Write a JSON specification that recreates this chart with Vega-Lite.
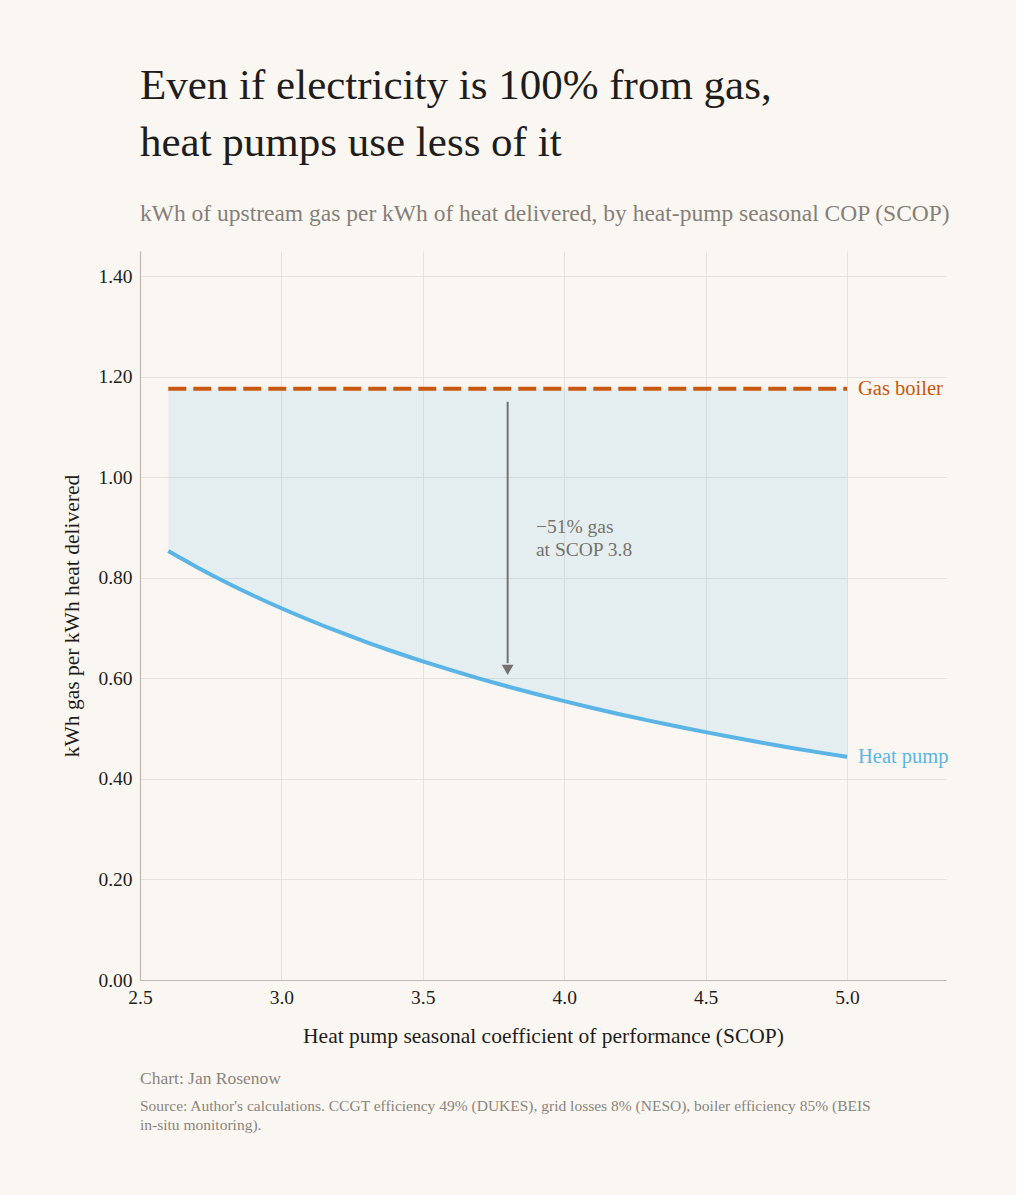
{
  "$schema": "https://vega.github.io/schema/vega-lite/v6.json",
  "background": "#faf7f2",
  "padding": {"left": 61, "top": 64, "right": 65, "bottom": 62},
  "title": {
    "text": ["Even if electricity is 100% from gas,", "heat pumps use less of it"],
    "subtitle": "kWh of upstream gas per kWh of heat delivered, by heat-pump seasonal COP (SCOP)",
    "anchor": "start",
    "frame": "group",
    "font": "Liberation Serif",
    "fontSize": 43,
    "fontWeight": "normal",
    "lineHeight": 57,
    "color": "#1f1d1b",
    "subtitleFont": "Liberation Serif",
    "subtitleFontSize": 23.5,
    "subtitleColor": "#857f79",
    "subtitlePadding": 37,
    "offset": 26
  },
  "datasets": {
    "curve": [
      {"scop": 2.6, "hp": 0.8532, "boiler": 1.176},
      {"scop": 2.7, "hp": 0.8216, "boiler": 1.176},
      {"scop": 2.8, "hp": 0.7922, "boiler": 1.176},
      {"scop": 2.9, "hp": 0.7649, "boiler": 1.176},
      {"scop": 3.0, "hp": 0.7394, "boiler": 1.176},
      {"scop": 3.1, "hp": 0.7156, "boiler": 1.176},
      {"scop": 3.2, "hp": 0.6932, "boiler": 1.176},
      {"scop": 3.3, "hp": 0.6722, "boiler": 1.176},
      {"scop": 3.4, "hp": 0.6524, "boiler": 1.176},
      {"scop": 3.5, "hp": 0.6338, "boiler": 1.176},
      {"scop": 3.6, "hp": 0.6162, "boiler": 1.176},
      {"scop": 3.7, "hp": 0.5995, "boiler": 1.176},
      {"scop": 3.8, "hp": 0.5838, "boiler": 1.176},
      {"scop": 3.9, "hp": 0.5688, "boiler": 1.176},
      {"scop": 4.0, "hp": 0.5546, "boiler": 1.176},
      {"scop": 4.1, "hp": 0.5410, "boiler": 1.176},
      {"scop": 4.2, "hp": 0.5282, "boiler": 1.176},
      {"scop": 4.3, "hp": 0.5159, "boiler": 1.176},
      {"scop": 4.4, "hp": 0.5042, "boiler": 1.176},
      {"scop": 4.5, "hp": 0.4930, "boiler": 1.176},
      {"scop": 4.6, "hp": 0.4822, "boiler": 1.176},
      {"scop": 4.7, "hp": 0.4720, "boiler": 1.176},
      {"scop": 4.8, "hp": 0.4621, "boiler": 1.176},
      {"scop": 4.9, "hp": 0.4527, "boiler": 1.176},
      {"scop": 5.0, "hp": 0.4437, "boiler": 1.176}
    ],
    "labels": [
      {"scop": 5.0, "value": 1.176, "label": "Gas boiler", "series": "boiler"},
      {"scop": 5.0, "value": 0.4437, "label": "Heat pump", "series": "hp"}
    ],
    "arrow": [
      {"scop": 3.8, "top": 1.15, "bottom": 0.63, "tip": 0.617}
    ],
    "note": [
      {"scop": 3.9, "value": 0.889, "text": "−51% gas\nat SCOP 3.8"}
    ]
  },
  "vconcat": [
    {
      "width": 806,
      "height": 729,
      "title": {
        "text": "Chart: Jan Rosenow",
        "subtitle": ["Source: Author's calculations. CCGT efficiency 49% (DUKES), grid losses 8% (NESO), boiler efficiency 85% (BEIS", "in-situ monitoring)."],
        "orient": "bottom",
        "anchor": "start",
        "frame": "group",
        "font": "Liberation Serif",
        "fontSize": 17.5,
        "fontWeight": "normal",
        "color": "#8a847e",
        "subtitleFont": "Liberation Serif",
        "subtitleFontSize": 15.5,
        "subtitleColor": "#8a847e",
        "subtitleLineHeight": 19,
        "subtitlePadding": 11,
        "offset": 23
      },
      "layer": [
        {
          "data": {"name": "curve"},
          "mark": {"type": "area", "color": "#5ab4e5", "opacity": 0.13, "stroke": "#9cc5dc", "strokeWidth": 1, "strokeOpacity": 0.6},
          "encoding": {
            "x": {
              "field": "scop", "type": "quantitative",
              "scale": {"domain": [2.5, 5.35], "nice": false, "zero": false},
              "axis": {
                "values": [2.5, 3.0, 3.5, 4.0, 4.5, 5.0],
                "format": ".1f",
                "labelFlush": false,
                "title": "Heat pump seasonal coefficient of performance (SCOP)"
              }
            },
            "y": {
              "field": "hp", "type": "quantitative",
              "scale": {"domain": [0, 1.45], "nice": false},
              "axis": {
                "values": [0, 0.2, 0.4, 0.6, 0.8, 1.0, 1.2, 1.4],
                "format": ".2f",
                "labelFlush": false,
                "title": "kWh gas per kWh heat delivered"
              }
            },
            "y2": {"field": "boiler"}
          }
        },
        {
          "data": {"name": "curve"},
          "mark": {"type": "line", "color": "#c8580f", "strokeWidth": 4, "strokeDash": [18, 7]},
          "encoding": {
            "x": {"field": "scop", "type": "quantitative"},
            "y": {"field": "boiler", "type": "quantitative"}
          }
        },
        {
          "data": {"name": "curve"},
          "mark": {"type": "line", "color": "#5ab4e5", "strokeWidth": 4, "interpolate": "monotone"},
          "encoding": {
            "x": {"field": "scop", "type": "quantitative"},
            "y": {"field": "hp", "type": "quantitative"}
          }
        },
        {
          "data": {"name": "labels"},
          "mark": {"type": "text", "align": "left", "baseline": "middle", "dx": 11, "font": "Liberation Serif", "fontSize": 20.5},
          "encoding": {
            "x": {"field": "scop", "type": "quantitative"},
            "y": {"field": "value", "type": "quantitative"},
            "text": {"field": "label"},
            "color": {
              "field": "series", "type": "nominal",
              "scale": {"domain": ["boiler", "hp"], "range": ["#c8580f", "#5ab4e5"]},
              "legend": null
            }
          }
        },
        {
          "data": {"name": "arrow"},
          "mark": {"type": "rule", "color": "#76716c", "strokeWidth": 2},
          "encoding": {
            "x": {"field": "scop", "type": "quantitative"},
            "y": {"field": "top", "type": "quantitative"},
            "y2": {"field": "bottom"}
          }
        },
        {
          "data": {"name": "arrow"},
          "mark": {"type": "point", "shape": "triangle-down", "filled": true, "color": "#76716c", "opacity": 1, "size": 140},
          "encoding": {
            "x": {"field": "scop", "type": "quantitative"},
            "y": {"field": "tip", "type": "quantitative"}
          }
        },
        {
          "data": {"name": "note"},
          "mark": {"type": "text", "align": "left", "baseline": "alphabetic", "lineBreak": "\n", "lineHeight": 23, "font": "Liberation Serif", "fontSize": 19.5, "color": "#76716c"},
          "encoding": {
            "x": {"field": "scop", "type": "quantitative"},
            "y": {"field": "value", "type": "quantitative"},
            "text": {"field": "text"}
          }
        }
      ]
    }
  ],
  "config": {
    "view": {"stroke": null},
    "font": "Liberation Serif",
    "axis": {
      "labelFont": "Liberation Serif",
      "titleFont": "Liberation Serif",
      "labelFontSize": 19.5,
      "titleFontSize": 21.5,
      "labelColor": "#1f1d1b",
      "titleColor": "#1f1d1b",
      "titleFontWeight": "normal",
      "gridColor": "#e6e1dc",
      "gridWidth": 1,
      "domainColor": "#bdb8b2",
      "domainWidth": 1.2,
      "ticks": false,
      "labelPadding": 8
    },
    "axisX": {"titlePadding": 19},
    "axisY": {"titlePadding": 14}
  }
}
